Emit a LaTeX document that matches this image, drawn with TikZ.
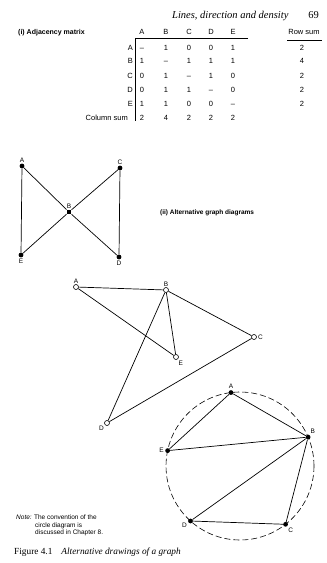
\documentclass[tikz,border=0pt]{standalone}
\usepackage{fontspec}
\setmainfont{Liberation Serif}
\setsansfont{Liberation Sans}
\usetikzlibrary{calc}
\begin{document}
\begin{tikzpicture}[x=1pt,y=-1pt,
  mtxt/.style={font=\sffamily\fontsize{7.5}{8}\selectfont, inner sep=0pt, anchor=base},
  lbl/.style={font=\sffamily\fontsize{6.5}{7}\selectfont, inner sep=1pt},
  fdot/.style={circle, fill=black, inner sep=0pt, minimum size=4.8pt},
  sqdot/.style={rectangle, fill=black, inner sep=0pt, minimum size=4.6pt},
  odot/.style={circle, draw=black, fill=white, line width=0.6pt, inner sep=0pt, minimum size=5pt},
  edge/.style={line width=0.7pt},
  rule/.style={line width=0.7pt},
  every label/.style={lbl}]
\useasboundingbox (0,0) rectangle (327,563);
% header
\node[font=\fontsize{10.5}{12}\selectfont\itshape, anchor=base west, inner sep=0pt] (hdr) at (172,18) {Lines, direction and density};
\node[font=\fontsize{10.5}{12}\selectfont, anchor=base east, inner sep=0pt] (pg) at (319,18) {69};
% (i) adjacency matrix
\node[font=\sffamily\bfseries\fontsize{7}{8}\selectfont, anchor=base west, inner sep=0pt] (ti) at (18,34) {(i) Adjacency matrix};
\foreach \c/\cx in {A/142,B/166,C/189,D/211,E/233}
  \node[mtxt] (h\c) at (\cx,34) {\c};
\node[mtxt] (hrs) at (304,34) {Row sum};
\coordinate (ul1) at (287,40); \coordinate (ul2) at (322,40);
\draw[rule] (ul1) -- (ul2);
\coordinate (mtl) at (135,38); \coordinate (mtr) at (248,38); \coordinate (mbl) at (135,121);
\draw[rule] (mtr) -- (mtl) -- (mbl);
\foreach \r/\ry/\rs in {A/50/2,B/63/4,C/78/2,D/92/2,E/106/2} {
  \node[mtxt, anchor=base east] (r\r) at (133,\ry) {\r};
  \node[mtxt] (s\r) at (302,\ry) {\rs};
}
\foreach \v/\cx [count=\j] in {\textendash/142,1/166,0/189,0/211,1/233} \node[mtxt] (mA\j) at (\cx,50) {\v};
\foreach \v/\cx [count=\j] in {1/142,\textendash/166,1/189,1/211,1/233} \node[mtxt] (mB\j) at (\cx,63) {\v};
\foreach \v/\cx [count=\j] in {0/142,1/166,\textendash/189,1/211,0/233} \node[mtxt] (mC\j) at (\cx,78) {\v};
\foreach \v/\cx [count=\j] in {0/142,1/166,1/189,\textendash/211,0/233} \node[mtxt] (mD\j) at (\cx,92) {\v};
\foreach \v/\cx [count=\j] in {1/142,1/166,0/189,0/211,\textendash/233} \node[mtxt] (mE\j) at (\cx,106) {\v};
\node[mtxt, anchor=base east] (csl) at (128,120) {Column sum};
\foreach \v/\cx [count=\j] in {2/142,4/166,2/189,2/211,2/233} \node[mtxt] (cs\j) at (\cx,120) {\v};
% bowtie graph
\node[fdot, label={[lbl]90:A}] (a1) at (22,166) {};
\node[fdot, label={[lbl]90:C}] (c1) at (120,168) {};
\node[sqdot, label={[lbl]90:B}] (b1) at (69,212) {};
\node[fdot, label={[lbl]-90:E}] (e1) at (21,255) {};
\node[fdot, label={[lbl]-90:D}] (d1) at (119,257) {};
\draw[edge] (a1) -- (e1);
\draw[edge] (c1) -- (d1);
\draw[edge] (a1) -- (b1) -- (d1);
\draw[edge] (c1) -- (b1) -- (e1);
\node[font=\sffamily\bfseries\fontsize{6.5}{8}\selectfont, anchor=west, inner sep=0pt] (tii) at (160,213) {(ii) Alternative graph diagrams};
% open-circle graph
\node[odot, label={[lbl]90:A}] (a2) at (76,287) {};
\node[odot, label={[lbl]90:B}] (b2) at (166,290) {};
\node[odot, label={[lbl]0:C}] (c2) at (254,337) {};
\node[odot, label={[lbl]-60:E}] (e2) at (176,357) {};
\node[odot, label={[lbl]-135:D}] (d2) at (107,423) {};
\draw[edge] (a2) -- (b2);
\draw[edge] (a2) -- (e2);
\draw[edge] (b2) -- (e2);
\draw[edge] (b2) -- (d2);
\draw[edge] (b2) -- (c2);
\draw[edge] (c2) -- (d2);
% circle graph
\coordinate (cc) at (240,466);
\draw[line width=0.6pt, dash pattern=on 6pt off 3pt] (cc) circle[radius=74pt];
\node[fdot, label={[lbl]90:A}] (a3) at ($(cc)+(97:74pt)$) {};
\node[fdot, label={[lbl]60:B}] (b3) at ($(cc)+(23:74pt)$) {};
\node[fdot, label={[lbl]180:E}] (e3) at ($(cc)+(168:74pt)$) {};
\node[fdot, label={[lbl]-160:D}] (d3) at ($(cc)+(228:74pt)$) {};
\node[fdot, label={[lbl]-50:C}] (c3) at ($(cc)+(308:74pt)$) {};
\draw[edge] (a3) -- (b3);
\draw[edge] (a3) -- (e3);
\draw[edge] (e3) -- (b3);
\draw[edge] (b3) -- (d3);
\draw[edge] (b3) -- (c3);
\draw[edge] (d3) -- (c3);
% note
\node[font=\sffamily\fontsize{6.5}{7.5}\selectfont, anchor=north west, inner sep=0pt, align=left] (note) at (16,515)
  {\textit{Note:} The convention of the\\\hspace*{19pt}circle diagram is\\\hspace*{19pt}discussed in Chapter 8.};
% caption
\node[font=\fontsize{9.3}{10}\selectfont, anchor=base west, inner sep=0pt] (cap) at (14,554)
  {Figure 4.1\hspace{9pt}\textit{Alternative drawings of a graph}};
\end{tikzpicture}
\end{document}
